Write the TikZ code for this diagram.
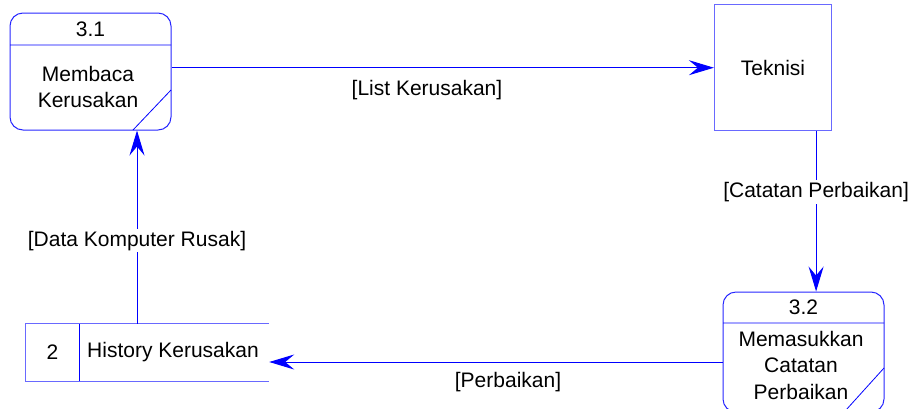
\documentclass[tikz,border=0pt]{standalone}
\usepackage{fontspec}
\setmainfont{Liberation Sans}
\usetikzlibrary{arrows.meta}

\definecolor{flowblue}{RGB}{0,0,255}
\definecolor{paleblue}{RGB}{105,105,255}

\begin{document}
\begin{tikzpicture}[x=1pt, y=-1pt, font=\fontsize{21}{26.5}\selectfont,
    flow/.style={draw=flowblue, line width=1pt,
      -{Stealth[length=25pt, width=15pt, inset=9pt, flowblue]}},
    proc/.style={draw=flowblue!85!white, line width=1pt, rounded corners=13pt,
      minimum width=161pt, minimum height=117pt, inner sep=0pt},
    entity/.style={draw=paleblue, line width=1.2pt, minimum width=117pt,
      minimum height=126pt, inner sep=0pt},
    boxline/.style={draw=flowblue, line width=0.8pt},
    flowlabel/.style={fill=white, inner sep=2pt}]
    \clip (0,0) rectangle (916,408);

    % process 3.1
    \node[proc] (p31) at (90.5,71.5) {};
    \draw[boxline] (10,45) -- (171,45) (171,90) -- (133,130);
    \node (p31id) at (90.5,29) {3.1};
    \node[align=center] (p31txt) at (88,87) {Membaca\\Kerusakan};

    % external entity
    \node[entity] (teknisi) at (773,67.7) {Teknisi};

    % process 3.2
    \node[proc, minimum height=120pt] (p32) at (803.5,352) {};
    \draw[boxline] (723,323) -- (884,323) (884,368) -- (846,410);
    \node (p32id) at (803.5,307) {3.2};
    \node[align=center] (p32txt) at (801,365) {Memasukkan\\Catatan\\Perbaikan};

    % data store
    \node[minimum width=243pt, minimum height=57pt, inner sep=0pt] (store) at (147.5,352.5) {};
    \draw[draw=paleblue, line width=1.2pt] (store.north east) -- (store.north west)
      -- (store.south west) -- (store.south east);
    \draw[boxline] (79,324) -- (79,381);
    \node (storeid) at (52.5,352.5) {2};
    \node[anchor=west, inner sep=0pt] (storetxt) at (87,352.5) {History Kerusakan};

    % flows
    \draw[flow] (p31.east |- teknisi.west) -- (teknisi.west);
    \node (lbllist) at (427,90) {[List Kerusakan]};
    \draw[flow] ([xshift=-16pt]teknisi.south east)
      -- node[flowlabel, pos=0.38] (lblcatatan) {[Catatan Perbaikan]}
      ([xshift=-16pt]teknisi.south east |- p32.north);
    \draw[flow] ([yshift=-10pt]p32.west) -- ([yshift=-10pt]p32.west -| store.east);
    \node (lblperbaikan) at (508,382) {[Perbaikan]};
    \draw[flow] ([xshift=-10.5pt]store.north)
      -- node[flowlabel, pos=0.43] (lbldata) {[Data Komputer Rusak]}
      ([xshift=-10.5pt]store.north |- p31.south);
\end{tikzpicture}
\end{document}
